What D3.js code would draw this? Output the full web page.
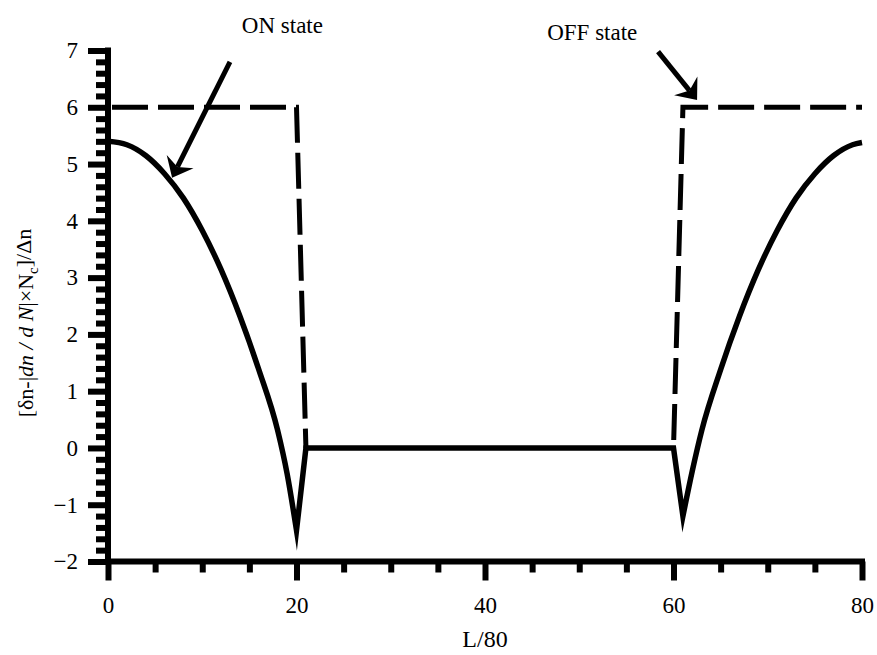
<!DOCTYPE html>
<html>
<head>
<meta charset="utf-8">
<script src="https://cdn.jsdelivr.net/npm/d3@7"></script>
<style>
body { margin: 0; background: #fff; }
text { font-family: "Liberation Serif", "Times New Roman", serif; fill: #000; }
.tick text { font-family: "Liberation Serif", "Times New Roman", serif; font-size: 23px; fill: #000; }
.tick line { stroke: #000; stroke-width: 6; }
</style>
</head>
<body>
<svg width="877" height="655"></svg>
<script>
// solid curve: left branch, flat part, right branch
var leftX  = [0, 2, 4, 6, 8, 10, 12, 14, 16, 18, 19, 20];
var leftY  = [5.4, 5.34, 5.15, 4.83, 4.4, 3.83, 3.14, 2.32, 1.38, 0.31, -0.45, -1.45];
var flatX  = [21, 60];
var flatY  = [0, 0];
var rightX = [61, 62, 63, 65, 67, 69, 71, 73, 75, 77, 79, 80];
var rightY = [-1.2, -0.4, 0.31, 1.38, 2.32, 3.14, 3.83, 4.4, 4.83, 5.15, 5.34, 5.38];
// dashed step line
var dashX = [0, 20, 21];
var dashY = [6, 6, 0];
var dash2X = [60, 61, 80];
var dash2Y = [0, 6, 6];

var xTicks = [0, 20, 40, 60, 80];
var yTicks = [-2, -1, 0, 1, 2, 3, 4, 5, 6, 7];
var notes = ["ON state", "OFF state"];

var svg = d3.select('svg');
var x = d3.scaleLinear().domain([0, 80]).range([108, 862]);
var y = d3.scaleLinear().domain([-2, 7]).range([561.5, 50.5]);

function pts(xs, ys) { return xs.map(function (d, i) { return [x(d), y(ys[i])]; }); }

// axes
var xMinor = d3.range(0, 81, 5).filter(function (d) { return xTicks.indexOf(d) < 0; });
var yMinor = d3.range(-20, 71, 2).filter(function (d) { return d % 10 != 0; }).map(function (d) { return d / 10; });

var gx = svg.append('g').attr('transform', 'translate(0,' + y(-2) + ')');
gx.append('g').call(d3.axisBottom(x).tickValues(xMinor).tickSize(11).tickFormat(''));
gx.append('g').call(d3.axisBottom(x).tickValues(xTicks).tickSize(19).tickPadding(16).tickFormat(d3.format('d')));

var gy = svg.append('g').attr('transform', 'translate(' + x(0) + ',0)');
gy.append('g').call(d3.axisLeft(y).tickValues(yMinor).tickSize(12).tickFormat(''));
gy.append('g').call(d3.axisLeft(y).tickValues(yTicks).tickSize(20).tickPadding(10).tickFormat(d3.format('d')));
svg.selectAll('.domain').remove();

svg.append('line').attr('x1', x(0)).attr('x2', x(80)).attr('y1', y(-2)).attr('y2', y(-2))
  .attr('stroke', '#000').attr('stroke-width', 6).attr('stroke-linecap', 'square');
svg.append('line').attr('x1', x(0)).attr('x2', x(0)).attr('y1', y(-2)).attr('y2', y(7))
  .attr('stroke', '#000').attr('stroke-width', 6).attr('stroke-linecap', 'square');

// curves
var smooth = d3.line().curve(d3.curveMonotoneX);
var straight = d3.line();
var solidPath = smooth(pts(leftX, leftY)) +
  straight(pts(flatX, flatY)).replace(/^M/, 'L') +
  smooth(pts(rightX, rightY)).replace(/^M/, 'L');

svg.append('path').attr('d', solidPath).attr('fill', 'none').attr('stroke', '#000')
  .attr('stroke-width', 5.5).attr('stroke-linejoin', 'miter').attr('stroke-miterlimit', 20);

svg.append('path').attr('d', straight(pts(dashX, dashY))).attr('fill', 'none').attr('stroke', '#000')
  .attr('stroke-width', 5).attr('stroke-dasharray', '36,10').attr('stroke-dashoffset', -4);
svg.append('path').attr('d', straight(pts(dash2X, dash2Y))).attr('fill', 'none').attr('stroke', '#000')
  .attr('stroke-width', 5).attr('stroke-dasharray', '36,10').attr('stroke-dashoffset', -8);

// annotations
var arrowFrom = [[12.94, 6.8], [58.36, 6.98]];
var arrowTo = [[6.8, 4.76], [62.5, 6.13]];
var noteAt = [[14.2, 7.31], [46.6, 7.18]];

notes.forEach(function (t, i) {
  var fx = x(arrowFrom[i][0]), fy = y(arrowFrom[i][1]);
  var tx = x(arrowTo[i][0]), ty = y(arrowTo[i][1]);
  var len = Math.hypot(tx - fx, ty - fy);
  var ux = (tx - fx) / len, uy = (ty - fy) / len;
  svg.append('line').attr('x1', fx).attr('y1', fy)
    .attr('x2', tx - ux * 12).attr('y2', ty - uy * 12)
    .attr('stroke', '#000').attr('stroke-width', 5);
  var ang = Math.atan2(uy, ux) * 180 / Math.PI;
  svg.append('path').attr('d', 'M0,0 L-18,-15 L-12,0 L-18,15 Z').attr('fill', '#000')
    .attr('transform', 'translate(' + tx + ',' + ty + ') rotate(' + ang + ')');
  svg.append('text').attr('x', x(noteAt[i][0])).attr('y', y(noteAt[i][1]))
    .style('font-size', '23px').text(t);
});

// axis titles
svg.append('text').attr('x', x(40)).attr('y', 647).attr('text-anchor', 'middle')
  .style('font-size', '24px').text('L/80');

var yt = svg.append('text').attr('transform', 'translate(33,323) rotate(-90)')
  .attr('text-anchor', 'middle').style('font-size', '22px');
yt.append('tspan').text('[δn-|');
yt.append('tspan').style('font-style', 'italic').text('dn / d N');
yt.append('tspan').text('|×N');
yt.append('tspan').attr('dy', '0.3em').style('font-size', '15px').text('c');
yt.append('tspan').attr('dy', '-0.3em').text(']/Δn');
</script>
</body>
</html>
